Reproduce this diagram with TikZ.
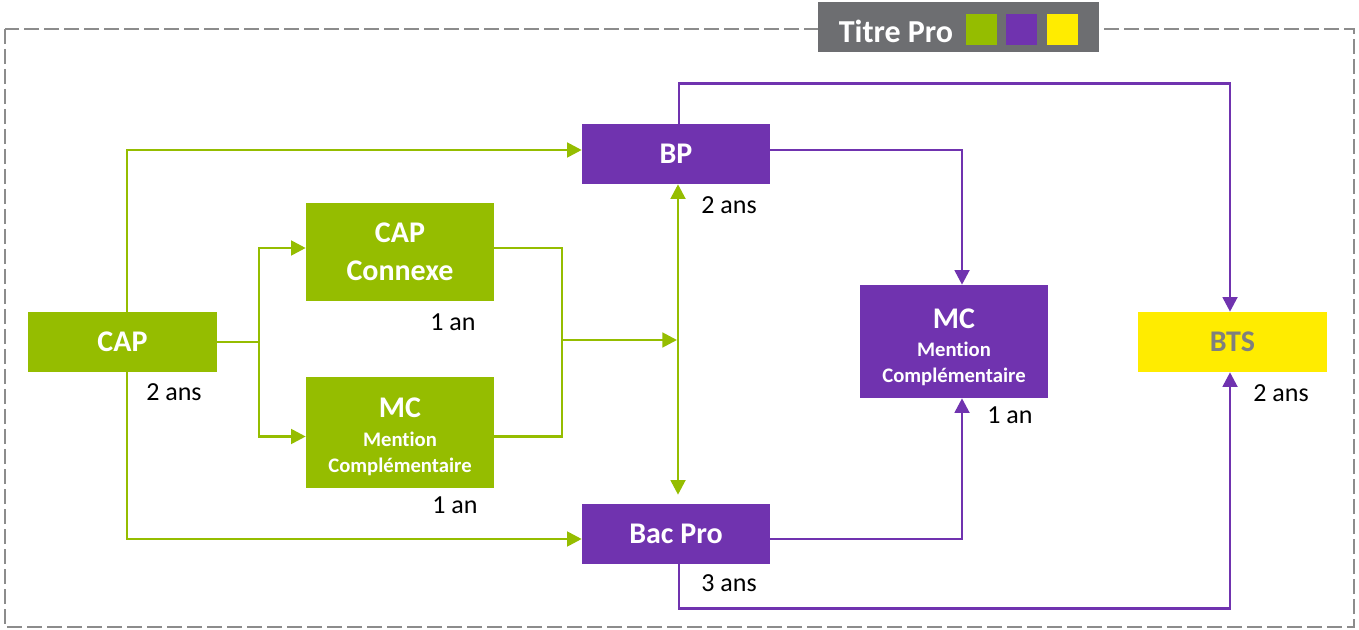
\documentclass[tikz,border=0pt]{standalone}
\usepackage{fontspec}
\setmainfont{Carlito}[Ligatures=NoCommon]
\usetikzlibrary{arrows.meta,calc}
\definecolor{cgreen}{HTML}{95BD00}
\definecolor{cpurple}{HTML}{7033AF}
\definecolor{cyellow}{HTML}{FFEC00}
\definecolor{cgray}{HTML}{6D6E71}
\definecolor{cdash}{HTML}{8C8C8C}
\definecolor{cbts}{HTML}{7F7F7F}
\begin{document}
\begin{tikzpicture}[x=0.75pt,y=-0.75pt,
  box/.style={draw=none,inner sep=0pt,align=center,text=white,font=\fontsize{22.5}{28.5}\selectfont\bfseries},
  gbox/.style={box,fill=cgreen},
  pbox/.style={box,fill=cpurple},
  dur/.style={inner sep=0pt,font=\fontsize{19.5}{23}\selectfont},
  gl/.style={draw=cgreen,line width=2.1pt},
  pl/.style={draw=cpurple,line width=2.1pt},
  tip/.style={-{Triangle[length=11pt,width=11pt]}},
  dtip/.style={{Triangle[length=11pt,width=11pt]}-{Triangle[length=11pt,width=11pt]}},
]
\useasboundingbox (0,0) rectangle (1359,630);
% dashed frame
\draw[cdash,line width=1.9pt,dash pattern=on 11.25pt off 3.75pt] (5,29) rectangle (1354,627);
% legend
\node[fill=cgray,minimum width=281*0.75pt,minimum height=50*0.75pt,inner sep=0pt] (legend) at (958.5,27) {};
\node[text=white,inner sep=0pt,font=\fontsize{24}{28}\selectfont\bfseries] (titre) at (896,31) {Titre Pro};
\node[fill=cgreen,minimum size=31*0.75pt,inner sep=0pt] (sqg) at (981,30) {};
\node[fill=cpurple,minimum size=31*0.75pt,inner sep=0pt] (sqp) at (1021.5,30) {};
\node[fill=cyellow,minimum size=31*0.75pt,inner sep=0pt] (sqy) at (1062.5,30) {};
% boxes
\node[gbox,minimum width=189*0.75pt,minimum height=60*0.75pt] (cap) at (122.5,342) {CAP};
\node[gbox,minimum width=188*0.75pt,minimum height=98*0.75pt] (capc) at (400,252) {CAP\\Connexe};
\node[gbox,minimum width=188*0.75pt,minimum height=111*0.75pt] (mcg) at (400,432.5) {\rule{0pt}{21pt}MC\\[-7pt]{\fontsize{15.5}{20}\selectfont Mention}\\[-9pt]{\fontsize{15.5}{20}\selectfont Complémentaire}};
\node[pbox,minimum width=188*0.75pt,minimum height=60*0.75pt] (bp) at (676,154) {BP};
\node[pbox,minimum width=188*0.75pt,minimum height=60*0.75pt] (bac) at (676,534) {Bac Pro};
\node[pbox,minimum width=188*0.75pt,minimum height=113*0.75pt] (mcp) at (954,341.5) {\rule{0pt}{23.5pt}MC\\[-7pt]{\fontsize{15.5}{20}\selectfont Mention}\\[-9pt]{\fontsize{15.5}{20}\selectfont Complémentaire}};
\node[box,fill=cyellow,text=cbts,minimum width=189*0.75pt,minimum height=60*0.75pt] (bts) at (1232.5,342) {BTS};
% durations
\node[dur] (d1) at (174,392) {2 ans};
\node[dur] (d2) at (453,322) {1 an};
\node[dur] (d3) at (455,505) {1 an};
\node[dur] (d4) at (729,205) {2 ans};
\node[dur] (d5) at (729,583) {3 ans};
\node[dur] (d6) at (1010,415) {1 an};
\node[dur] (d7) at (1281,393) {2 ans};
% helper coordinates
\coordinate (fork) at (259,342);
\coordinate (join) at (562,340);
\coordinate (vline) at (678,340);
% green connectors
\draw[gl,tip] ($(cap.north)+(4.5,0)$) |- ($(bp.west)+(0,-4)$);
\draw[gl,tip] ($(cap.south)+(4.5,0)$) |- ($(bac.west)+(0,5)$);
\draw[gl] (cap.east) -- (fork);
\draw[gl,tip] (fork) |- ($(capc.west)+(0,-4)$);
\draw[gl,tip] (fork) |- ($(mcg.west)+(0,4)$);
\draw[gl] ($(capc.east)+(0,-4)$) -| (join);
\draw[gl] ($(mcg.east)+(0,4)$) -| (join);
\draw[gl,tip] (join) -- ($(vline)+(-1,0)$);
\draw[gl,dtip] ($(bp.south)+(2,0)$) -- ($(bac.north)+(2,-9)$);
% purple connectors
\draw[pl,tip] ($(bp.north)+(3,0)$) -- ++(0,-40) -| ($(bts.north)+(-2.5,0)$);
\draw[pl,tip] ($(bp.east)+(0,-4)$) -| ($(mcp.north)+(8,0)$);
\draw[pl,tip] ($(bac.east)+(0,5)$) -| ($(mcp.south)+(8,0)$);
\draw[pl,tip] ($(bac.south)+(3,0)$) -- ++(0,44) -| ($(bts.south)+(-2.5,0)$);
\end{tikzpicture}
\end{document}
